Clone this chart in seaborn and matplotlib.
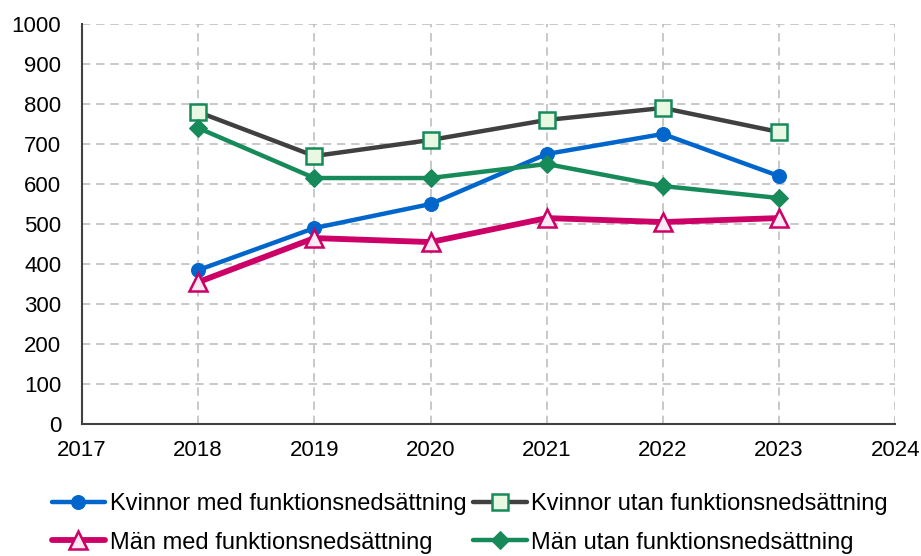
import pandas as pd
import matplotlib
matplotlib.use("Agg")
import matplotlib.pyplot as plt
import seaborn as sns

# data
years = [2018, 2019, 2020, 2021, 2022, 2023]
kvinnor_med = [385, 490, 550, 675, 725, 620]
kvinnor_utan = [780, 670, 710, 760, 790, 730]
man_med = [355, 465, 455, 515, 505, 515]
man_utan = [740, 615, 615, 650, 595, 565]

labels = ["Kvinnor med funktionsnedsättning", "Kvinnor utan funktionsnedsättning",
          "Män med funktionsnedsättning", "Män utan funktionsnedsättning"]

sns.set_style("white")
plt.rcParams['font.family'] = ['Liberation Sans', 'DejaVu Sans']
plt.rcParams['text.color'] = 'black'
plt.rcParams['xtick.color'] = 'black'
plt.rcParams['ytick.color'] = 'black'

fig = plt.figure(figsize=(9.21, 5.56), dpi=100)
ax = fig.add_axes([0.089, 0.237, 0.883, 0.72])

styles = [
    dict(color="#0066CC", marker="o", markersize=10, markerfacecolor="#0066CC",
         markeredgecolor="#0066CC", linewidth=3.2),
    dict(color="#404040", marker="s", markersize=11.5, markerfacecolor="#E8F8E2",
         markeredgecolor="#178A5A", markeredgewidth=1.8, linewidth=3.2),
    dict(color="#CC0066", marker="^", markersize=13, markerfacecolor="#FDE9F3",
         markeredgecolor="#CC0066", markeredgewidth=1.8, linewidth=4.2),
    dict(color="#178A5A", marker="D", markersize=9.5, markerfacecolor="#178A5A",
         markeredgecolor="#178A5A", linewidth=3.2),
]
series = [kvinnor_med, kvinnor_utan, man_med, man_utan]

for vals, lab, st in zip(series, labels, styles):
    df = pd.DataFrame({"year": years, "value": vals})
    sns.lineplot(data=df, x="year", y="value", ax=ax, label=lab, **st)

ax.set_xlim(2017, 2024)
ax.set_ylim(0, 1000)
ax.set_xticks(range(2017, 2025))
ax.set_yticks(range(0, 1001, 100))
ax.grid(True, linestyle=(0, (5, 3.5)), color="#BFBFBF", linewidth=1.2)
ax.set_axisbelow(True)
for s in ["top", "right"]:
    ax.spines[s].set_visible(False)
for s in ["left", "bottom"]:
    ax.spines[s].set_color("#404040")
    ax.spines[s].set_linewidth(1.5)
ax.tick_params(labelsize=16, length=0, labelcolor="black")
ax.tick_params(axis="y", pad=15)
ax.tick_params(axis="x", pad=11)
ax.set_xlabel("")
ax.set_ylabel("")

# legend fills row by row in the reference
h, l = ax.get_legend_handles_labels()
order = [0, 2, 1, 3]
ax.legend([h[i] for i in order], [l[i] for i in order],
          loc="upper left", bbox_to_anchor=(-0.037, -0.172), ncol=2, frameon=False,
          fontsize=17, handlelength=2.25, handletextpad=0.2, columnspacing=0.3,
          labelspacing=0.7, borderaxespad=0, borderpad=0)

fig.savefig("out.png", dpi=100)
